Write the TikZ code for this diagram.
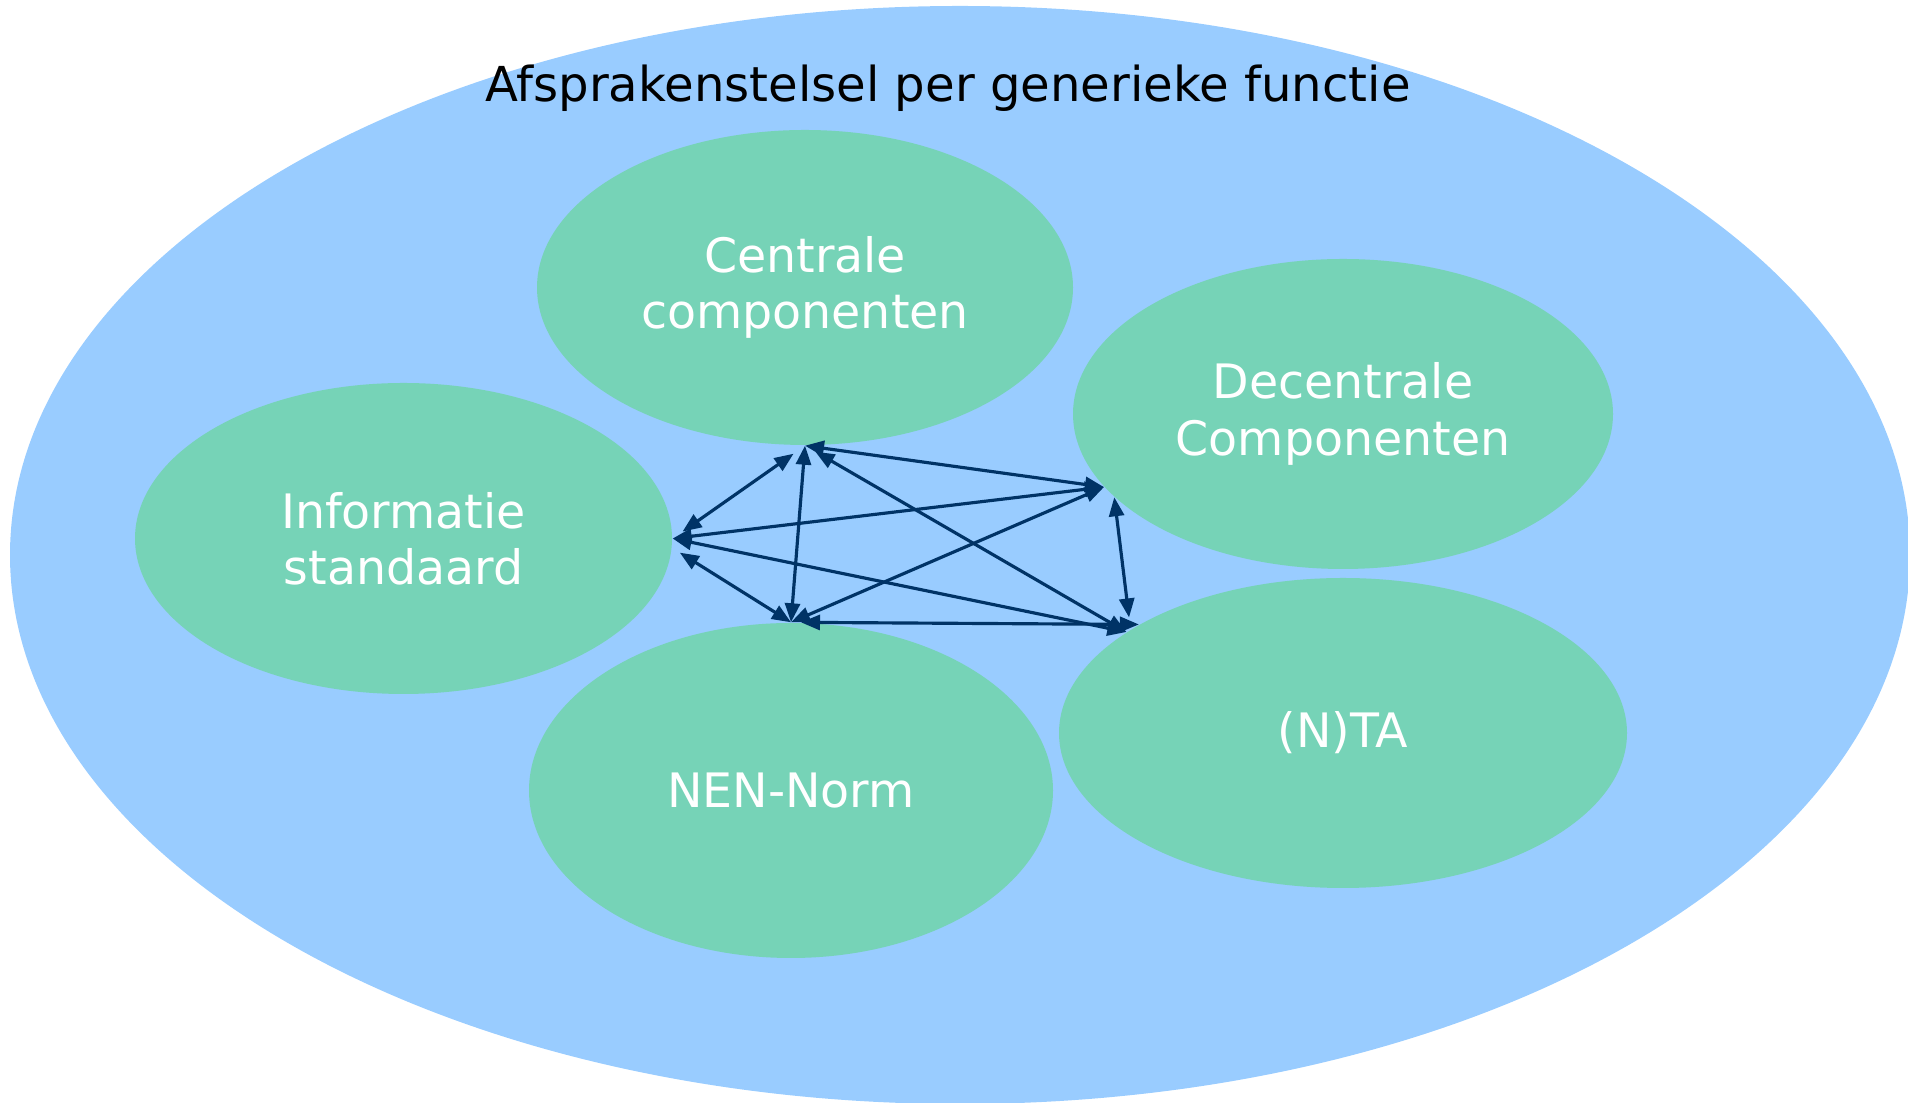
\documentclass[tikz,border=0pt]{standalone}
\usepackage{fontspec}
\setmainfont{DejaVu Sans}
\usetikzlibrary{arrows.meta,shapes.geometric}
\definecolor{afsprblue}{RGB}{153,204,255}
\definecolor{compgreen}{RGB}{118,211,183}
\definecolor{linknavy}{RGB}{0,51,102}
\tikzset{
	comp/.style={ellipse, fill=compgreen, text=white, align=center, inner sep=0pt, font=\fontsize{13.5}{16}\selectfont},
	link/.style={line width=0.9pt, color=linknavy, {Triangle[length=1.9mm,width=1.5mm]}-{Triangle[length=1.9mm,width=1.5mm]}}
}

\begin{document}
\begin{tikzpicture}
			%%%%% START %%%%%
			
			\useasboundingbox (0, 0) rectangle (19.08, 11.03);
			\clip (0, 0) rectangle (19.08, 11.03);
			
			\fill[afsprblue] (9.6, 5.48) ellipse (9.5 and 5.49);
			\node[font=\fontsize{13.7}{16}\selectfont] (titel) at (9.48, 10.15) {Afsprakenstelsel per generieke functie};
			
			\node[comp, minimum width=5.36cm, minimum height=3.15cm] (cen) at (8.05, 8.155) {Centrale\\componenten};
			\node[comp, minimum width=5.40cm, minimum height=3.10cm] (dec) at (13.43, 6.89) {Decentrale\\Componenten};
			\node[comp, minimum width=5.37cm, minimum height=3.11cm] (inf) at (4.035, 5.645) {Informatie\\standaard};
			\node[comp, minimum width=5.24cm, minimum height=3.35cm] (nen) at (7.91, 3.125) {NEN-Norm};
			\node[comp, minimum width=5.68cm, minimum height=3.10cm] (nta) at (13.43, 3.70) {(N)TA};
			
			\draw[link, shorten <=1.2mm, shorten >=1.4mm] (inf.east) -- (cen.south);
			\draw[link, shorten <=0.9mm] (inf.358) -- (nen.north);
			\draw[link] (cen.south) -- (nen.north);
			\draw[link] (cen.south) -- (dec.197);
			\draw[link, shorten <=1.2mm] (cen.south) -- (nta.155);
			\draw[link] (inf.east) -- (dec.197);
			\draw[link] (inf.east) -- (nta.155);
			\draw[link] (nen.north) -- (dec.197);
			\draw[link, shorten <=1mm] (nen.north) -- (nta.152);
			\draw[link, shorten >=1.2mm] (dec.200) -- (nta.154);
			
			%%%%% END %%%%%
\end{tikzpicture}
\end{document}
